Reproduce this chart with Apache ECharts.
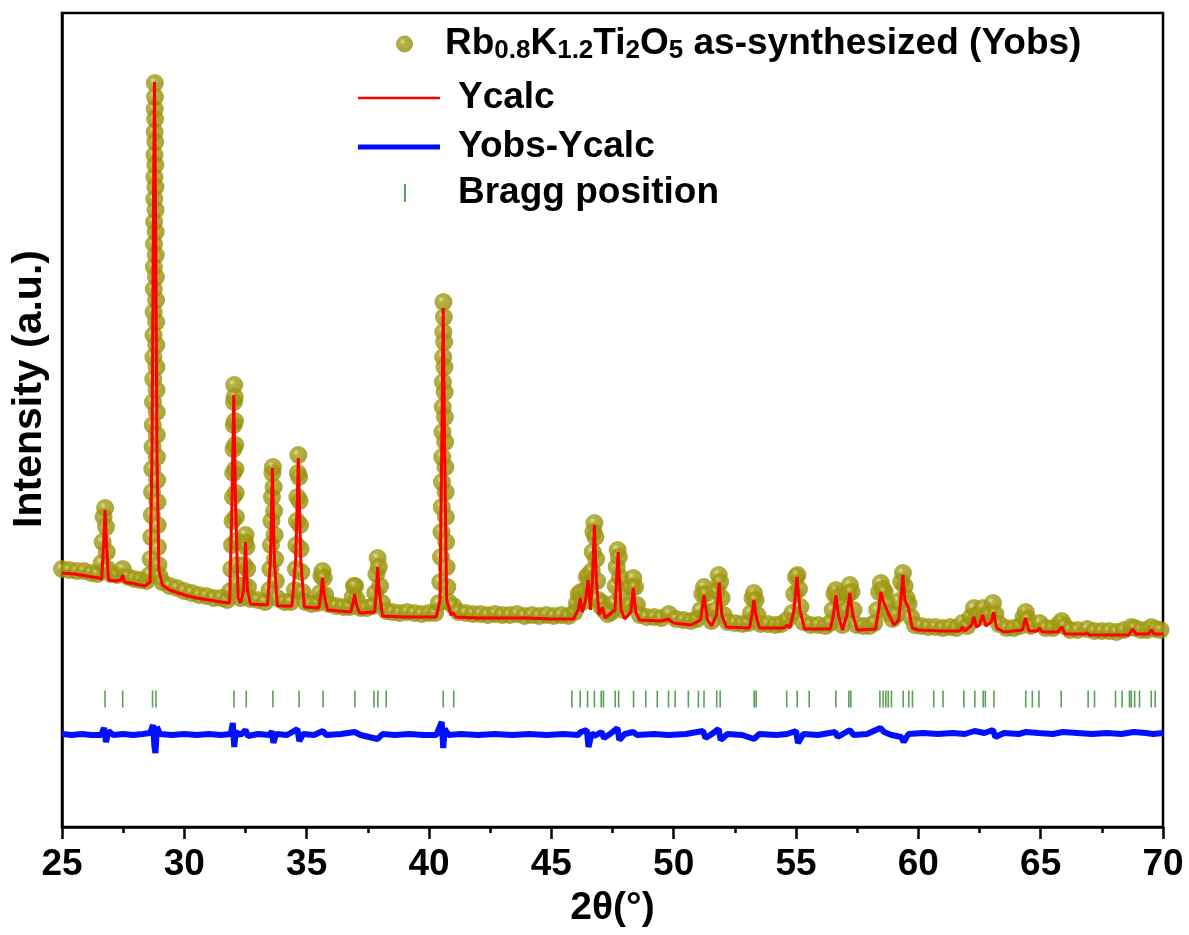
<!DOCTYPE html>
<html>
<head>
<meta charset="utf-8">
<title>Rb0.8K1.2Ti2O5 Rietveld refinement</title>
<script src="https://cdn.jsdelivr.net/npm/echarts@6/dist/echarts.min.js"></script>
<style>
  html, body { margin: 0; padding: 0; background: #fff; }
  #chart { width: 1189px; height: 935px; }
</style>
</head>
<body>
<div id="chart"></div>
<script>
// x axis ticks (2theta, degrees)
const xTicks = [25, 30, 35, 40, 45, 50, 55, 60, 65, 70]

// observed pattern, [2theta, intensity a.u.]
const obsPoints = [
  [25.0,258],[25.3,257],[25.6,256],[25.9,256],[26.2,254],[26.45,253],
  [26.62,264],[26.66,285],[26.70,310],[26.76,319],[26.80,300],[26.83,275],[26.87,258],
  [27.0,253],[27.25,252],[27.48,258],[27.7,250],[27.95,248],[28.2,247],[28.45,246],
  [28.58,252],[28.62,268],[28.65,290],[28.67,312],[28.68,335],[28.69,358],[28.70,380],[28.71,402],
  [28.72,425],[28.73,448],[28.735,470],[28.74,492],[28.745,515],[28.75,538],[28.755,560],[28.76,583],
  [28.765,605],[28.77,628],[28.775,650],[28.78,672],[28.785,695],[28.79,718],[28.795,744],
  [28.80,730],[28.805,708],[28.81,685],[28.815,662],[28.82,640],[28.825,617],[28.83,595],[28.835,572],
  [28.84,550],[28.845,527],[28.85,505],[28.855,482],[28.86,460],[28.865,437],[28.87,415],[28.875,392],
  [28.88,370],[28.89,347],[28.90,325],[28.91,302],[28.92,280],[28.94,262],[28.98,251],
  [29.1,245],[29.4,241],[29.7,239],[30.0,236],[30.3,234],[30.6,232],[30.9,231],[31.2,229],[31.5,229],[31.75,227],
  [31.88,236],[31.92,258],[31.95,282],[31.97,306],[31.99,330],[32.00,354],[32.01,378],[32.02,402],[32.03,425],[32.04,442],
  [32.06,430],[32.07,406],[32.08,382],[32.09,358],[32.10,334],[32.11,310],[32.13,286],[32.15,262],[32.18,242],[32.3,229],
  [32.4,241],[32.44,262],[32.47,285],[32.50,292],[32.54,280],[32.57,258],[32.60,240],[32.7,228],
  [33.0,227],[33.3,225],
  [33.48,237],[33.52,258],[33.54,282],[33.56,306],[33.58,330],[33.60,354],[33.62,360],
  [33.65,340],[33.67,316],[33.69,292],[33.71,268],[33.74,246],[33.8,229],
  [34.1,225],[34.35,225],
  [34.52,237],[34.56,258],[34.58,282],[34.60,306],[34.62,330],[34.64,354],[34.66,372],
  [34.69,350],[34.71,326],[34.73,302],[34.75,278],[34.78,255],[34.83,235],[34.95,225],
  [35.2,223],[35.45,224],
  [35.55,234],[35.60,251],[35.65,256],[35.70,249],[35.76,232],[35.9,223],
  [36.2,221],[36.5,220],[36.75,220],
  [36.88,230],[36.93,241],[36.98,241],[37.04,228],[37.2,219],
  [37.45,219],[37.7,221],
  [37.80,234],[37.85,253],[37.90,269],[37.95,260],[38.00,241],[38.08,224],[38.25,216],
  [38.5,215],[38.8,214],[39.1,215],[39.4,214],[39.7,213],[40.0,214],[40.25,214],
  [40.40,224],[40.46,245],[40.49,270],[40.51,295],[40.52,320],[40.53,345],[40.54,370],[40.55,395],
  [40.56,420],[40.57,445],[40.58,470],[40.585,495],[40.59,525],
  [40.61,510],[40.62,485],[40.63,460],[40.64,435],[40.65,410],[40.66,385],[40.67,360],[40.68,335],
  [40.69,310],[40.70,285],[40.72,260],[40.75,240],[40.80,225],
  [41.0,221],[41.2,215],[41.5,214],[41.8,213],[42.1,213],[42.4,212],[42.7,213],[43.0,212],[43.3,212],
  [43.6,213],[43.9,211],[44.2,212],[44.5,211],[44.8,212],[45.1,211],[45.4,212],[45.7,211],
  [45.95,215],[46.05,224],[46.12,233],[46.20,235],[46.28,225],[46.38,236],[46.45,250],[46.52,252],
  [46.58,241],[46.65,256],[46.69,275],[46.72,295],[46.76,304],[46.80,290],[46.83,268],[46.87,246],
  [46.93,227],[47.02,221],[47.08,224],[47.16,217],[47.3,213],
  [47.45,215],[47.58,224],[47.63,241],[47.67,260],[47.71,277],[47.76,270],[47.80,250],[47.85,231],[47.95,217],
  [48.20,222],[48.28,240],[48.35,249],[48.42,240],[48.50,222],[48.62,212],
  [48.9,210],[49.2,210],[49.5,209],[49.8,213],[50.1,208],[50.4,207],[50.7,206],[50.95,208],
  [51.10,217],[51.17,233],[51.24,240],[51.31,233],[51.40,215],[51.55,206],
  [51.70,217],[51.77,236],[51.84,252],[51.90,245],[51.96,229],[52.05,212],[52.2,205],
  [52.5,204],[52.8,203],[53.05,204],
  [53.16,214],[53.22,229],[53.28,234],[53.35,227],[53.42,212],[53.55,203],
  [53.85,203],[54.15,202],[54.4,203],[54.63,207],
  [54.85,214],[54.93,233],[55.00,250],[55.06,252],[55.12,238],[55.18,220],[55.3,205],
  [55.6,202],[55.9,202],[56.2,201],[56.4,204],
  [56.50,217],[56.57,233],[56.63,237],[56.70,229],[56.78,212],[56.9,202],
  [57.05,216],[57.12,233],[57.20,242],[57.27,235],[57.35,217],[57.48,202],
  [57.75,201],[58.0,201],[58.2,204],
  [58.32,217],[58.40,235],[58.47,244],[58.55,238],[58.63,235],[58.70,224],[58.80,214],[58.95,208],[59.1,212],
  [59.22,226],[59.30,245],[59.37,254],[59.44,241],[59.52,229],[59.60,223],[59.70,210],[59.85,202],
  [60.1,201],[60.4,200],[60.7,200],[61.0,199],[61.3,200],[61.55,199],[61.8,204],[62.0,201],
  [62.15,210],[62.27,219],[62.40,212],[62.52,213],[62.63,219],[62.75,210],[62.90,212],[63.05,224],[63.15,213],[63.3,203],
  [63.6,199],[63.9,199],[64.15,201],
  [64.30,210],[64.39,215],[64.48,208],[64.6,201],
  [64.96,204],[65.2,199],[65.5,199],[65.75,203],[65.86,206],[65.98,201],[66.2,197],[66.5,197],[66.9,198],
  [67.2,196],[67.5,196],[67.8,196],[68.1,195],[68.4,197],[68.7,200],[68.85,199],[69.1,197],[69.35,197],
  [69.53,200],[69.7,198],[69.9,197]
]

// calculated profile
const calcPoints = [
  [25.0,254],[25.5,253],[26.0,251],[26.5,249],[26.62,248],[26.70,282],[26.76,317],[26.82,282],[26.9,247],
  [27.2,246],[27.4,247],[27.48,252],[27.56,245],[28.0,243],[28.4,241],[28.6,245],[28.68,377],[28.74,627],
  [28.78,745],[28.82,627],[28.88,377],[28.96,257],[29.1,242],[29.4,237],[30.0,232],[30.5,229],[31.0,227],
  [31.5,225],[31.85,224],[31.95,327],[32.02,432],[32.09,327],[32.2,229],[32.3,224],[32.42,237],[32.5,285],
  [32.58,237],[32.7,223],[33.4,222],[33.52,267],[33.6,359],[33.68,267],[33.8,221],[34.4,221],[34.55,267],
  [34.66,369],[34.76,267],[34.9,220],[35.5,219],[35.58,232],[35.65,249],[35.72,232],[35.85,217],[36.8,215],
  [36.9,224],[36.96,233],[37.02,224],[37.15,214],[37.78,215],[37.85,237],[37.9,260],[37.96,237],[38.1,211],
  [39.0,210],[40.3,210],[40.45,227],[40.52,377],[40.58,519],[40.64,377],[40.72,227],[40.9,212],[41.0,214],
  [41.1,210],[42.0,209],[43.0,209],[44.0,209],[45.0,208],[45.9,208],[46.1,217],[46.18,229],[46.27,215],
  [46.4,227],[46.5,247],[46.6,217],[46.68,247],[46.76,302],[46.84,247],[46.95,212],[47.08,220],[47.2,209],
  [47.6,217],[47.73,275],[47.85,217],[48.0,208],[48.25,215],[48.35,239],[48.45,215],[48.6,207],[49.5,206],
  [49.78,208],[50.0,204],[50.7,202],[51.1,207],[51.24,232],[51.38,207],[51.55,201],[51.75,212],[51.86,244],
  [51.97,212],[52.15,200],[53.1,199],[53.2,212],[53.28,227],[53.36,212],[53.5,199],[54.5,199],[54.63,202],
  [54.75,199],[54.92,217],[55.04,250],[55.16,217],[55.35,198],[56.4,198],[56.53,212],[56.63,232],[56.73,212],
  [56.9,197],[57.08,212],[57.2,234],[57.32,212],[57.5,197],[58.25,198],[58.38,217],[58.47,235],[58.55,227],
  [58.63,229],[58.75,215],[59.0,202],[59.2,207],[59.3,232],[59.37,252],[59.45,227],[59.6,219],[59.75,199],
  [60.0,197],[61.0,196],[61.7,196],[61.8,200],[61.9,196],[62.18,202],[62.27,210],[62.38,200],[62.5,202],
  [62.63,212],[62.76,201],[62.98,205],[63.08,215],[63.2,199],[63.5,195],[64.25,197],[64.39,209],[64.52,196],
  [64.85,196],[64.96,199],[65.06,195],[65.7,195],[65.86,200],[66.0,193],[66.8,193],[66.9,194],[67.0,192],
  [68.6,192],[68.76,198],[68.9,193],[69.4,193],[69.53,197],[69.65,193],[70.0,193]
]

// difference curve (offset below the pattern)
const diffPoints = [
  [25.0,93],[25.4,92],[25.8,93],[26.2,92],[26.6,92],[26.72,99],[26.8,85],[26.9,96],[27.1,92],[27.5,93],
  [27.9,92],[28.3,93],[28.6,94],[28.72,102],[28.78,80],[28.82,74],[28.88,100],[29.0,93],[29.5,92],[30.0,93],
  [30.5,92],[31.0,93],[31.5,92],[31.9,93],[31.98,104],[32.04,80],[32.1,95],[32.3,92],[32.5,97],[32.6,91],
  [33.0,93],[33.5,92],[33.58,96],[33.64,84],[33.75,93],[34.2,92],[34.62,98],[34.7,86],[34.85,93],[35.3,92],
  [35.66,96],[35.8,92],[36.4,93],[36.96,95],[37.2,92],[37.9,88],[38.1,93],[38.6,92],[39.2,93],[39.8,92],
  [40.3,92],[40.52,105],[40.58,79],[40.64,98],[40.8,92],[41.3,93],[42.0,92],[42.7,93],[43.4,92],[44.1,93],
  [44.8,92],[45.5,93],[46.1,92],[46.2,95],[46.45,97],[46.52,80],[46.65,94],[46.76,91],[47.05,95],[47.15,89],
  [47.4,93],[47.7,99],[47.78,87],[48.0,93],[48.35,95],[48.5,92],[49.2,93],[49.8,92],[50.5,93],[51.2,96],
  [51.3,89],[51.5,92],[51.84,98],[51.92,87],[52.2,93],[52.8,92],[53.28,88],[53.5,93],[54.2,92],[54.63,93],
  [55.0,96],[55.08,84],[55.3,93],[55.9,92],[56.6,95],[56.7,90],[57.2,97],[57.35,92],[57.9,93],[58.45,99],
  [58.6,95],[58.9,92],[59.3,90],[59.4,85],[59.6,93],[60.2,94],[60.8,93],[61.4,94],[61.9,93],[62.3,96],
  [62.7,94],[63.05,97],[63.15,90],[63.5,94],[64.1,93],[64.4,95],[64.9,94],[65.5,93],[65.9,95],[66.5,94],
  [67.1,93],[67.7,94],[68.3,93],[68.8,95],[69.3,94],[69.6,93],[70.0,94]
]

// Bragg reflection positions (2theta)
const braggPositions = [
  26.76, 27.48, 28.70, 28.84, 32.03, 32.53, 33.62, 34.69, 35.67, 36.97, 37.75, 37.91, 38.25, 40.58, 41.01,
  45.84, 46.18, 46.48, 46.76, 47.04, 47.13, 47.61, 47.75, 48.36, 48.86, 49.33, 49.79, 50.06, 50.60, 51.01,
  51.24, 51.76, 51.90, 53.29, 53.37, 54.62, 55.05, 55.54, 56.63, 57.16, 57.24, 58.43, 58.56, 58.67, 58.77,
  58.90, 59.38, 59.61, 59.76, 60.63, 61.01, 61.86, 62.31, 62.65, 62.74, 63.09, 64.39, 64.66, 64.93, 65.84,
  66.94, 67.20, 68.06, 68.33, 68.63, 68.70, 68.84, 69.04, 69.52, 69.68
]
const braggLevel = 128

const FONT = '"Liberation Sans", Arial, Helvetica, sans-serif'
const names = {
  obs: 'Yobs',
  calc: 'Ycalc',
  diff: 'Yobs-Ycalc',
  bragg: 'Bragg position'
}

// shaded olive ball for the observed points
const ball = {
  type: 'radial', x: 0.38, y: 0.36, r: 0.62,
  colorStops: [
    { offset: 0, color: '#d9d590' },
    { offset: 0.28, color: '#a59e14' },
    { offset: 1, color: '#948d0a' }
  ]
}

const legendText = { fontFamily: FONT, fontWeight: 'bold', fontSize: 37, color: '#000', lineHeight: 40 }

const chart = echarts.init(document.getElementById('chart'), null, { renderer: 'canvas' })

chart.setOption({
  animation: false,
  backgroundColor: '#fff',
  grid: {
    left: 62, right: 26, top: 13, bottom: 108,
    show: true, borderColor: '#000', borderWidth: 2.5, backgroundColor: 'transparent'
  },
  legend: [
    {
      data: [names.obs], left: 396, top: 24, padding: 0, selectedMode: false,
      itemWidth: 17, itemHeight: 17,
      formatter: () => '{n|Rb}{s|0.8}{n|K}{s|1.2}{n|Ti}{s|2}{n|O}{s|5}{n| as-synthesized (Yobs)}',
      textStyle: Object.assign({}, legendText, {
        padding: [0, 0, 0, 27],
        rich: {
          n: { fontFamily: FONT, fontWeight: 'bold', fontSize: 37, lineHeight: 40, color: '#000' },
          s: { fontFamily: FONT, fontWeight: 'bold', fontSize: 26, lineHeight: 12, verticalAlign: 'bottom', color: '#000' }
        }
      })
    },
    {
      data: [{ name: names.calc, icon: 'rect' }], left: 358, top: 78, padding: 0, selectedMode: false,
      itemWidth: 82, itemHeight: 2.5,
      textStyle: Object.assign({}, legendText, { padding: [0, 0, 0, 13] })
    },
    {
      data: [{ name: names.diff, icon: 'rect' }], left: 358, top: 127, padding: 0, selectedMode: false,
      itemWidth: 82, itemHeight: 5,
      textStyle: Object.assign({}, legendText, { padding: [0, 0, 0, 13] })
    },
    {
      data: [names.bragg], left: 404, top: 173, padding: 0, selectedMode: false,
      itemWidth: 2, itemHeight: 18,
      textStyle: Object.assign({}, legendText, { padding: [0, 0, 0, 47] })
    }
  ],
  xAxis: {
    type: 'value',
    min: xTicks[0],
    max: xTicks[xTicks.length - 1],
    interval: xTicks[1] - xTicks[0],
    name: '2θ(°)',
    nameLocation: 'middle',
    nameGap: 62,
    nameTextStyle: { fontFamily: FONT, fontWeight: 'bold', fontSize: 39, color: '#000' },
    axisLine: { lineStyle: { color: '#000', width: 2.5 } },
    axisTick: { length: 12, lineStyle: { color: '#000', width: 2.5 } },
    minorTick: { show: true, splitNumber: 2, length: 6, lineStyle: { color: '#000', width: 2.5 } },
    axisLabel: { margin: 19, fontFamily: FONT, fontWeight: 'bold', fontSize: 37, color: '#000' },
    splitLine: { show: false }
  },
  yAxis: {
    type: 'value',
    min: 0,
    max: 814,
    name: 'Intensity (a.u.)',
    nameLocation: 'middle',
    nameGap: 12,
    nameTextStyle: { fontFamily: FONT, fontWeight: 'bold', fontSize: 41, color: '#000', padding: [0, 0, 0, 62] },
    axisLine: { show: true, lineStyle: { color: '#000', width: 2.5 } },
    axisTick: { show: false },
    axisLabel: { show: false },
    splitLine: { show: false }
  },
  series: [
    {
      name: names.obs,
      type: 'scatter',
      data: obsPoints,
      symbol: 'circle',
      symbolSize: 18,
      itemStyle: { color: ball },
      z: 2
    },
    {
      name: names.calc,
      type: 'line',
      data: calcPoints,
      symbol: 'none',
      lineStyle: { color: '#ff0000', width: 3 },
      itemStyle: { color: '#ff0000' },
      z: 3
    },
    {
      name: names.diff,
      type: 'line',
      data: diffPoints,
      symbol: 'none',
      lineStyle: { color: '#0010ff', width: 6 },
      itemStyle: { color: '#0010ff' },
      z: 3
    },
    {
      name: names.bragg,
      type: 'scatter',
      data: braggPositions.map(p => [p, braggLevel]),
      symbol: 'rect',
      symbolSize: [1.6, 17],
      itemStyle: { color: '#2e8b2e' },
      z: 3
    }
  ]
})

window.addEventListener('resize', () => chart.resize())
</script>
</body>
</html>
